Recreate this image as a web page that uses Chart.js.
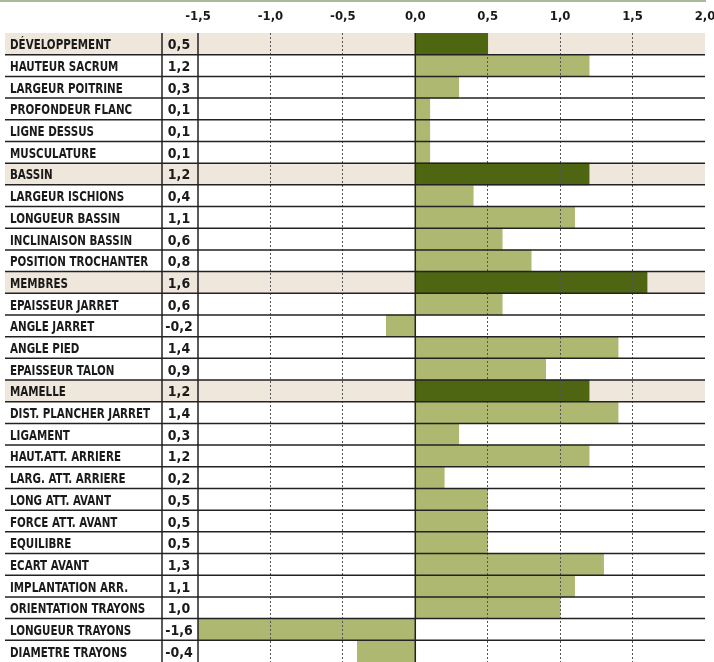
<!DOCTYPE html>
<html lang="fr">
<head>
<meta charset="UTF-8">
<title>Index morphologie</title>
<script src="https://cdn.jsdelivr.net/npm/chart.js"></script>
<style>
  body { margin: 0; background: #fff; }
  .chart-container { position: relative; width: 714px; height: 662px; }
</style>
</head>
<body>
<div class="chart-container"><canvas id="morphoChart"></canvas></div>
<script>
  // Postes pointés, dans l'ordre d'affichage
  const postes = [
    'DÉVELOPPEMENT', 'HAUTEUR SACRUM', 'LARGEUR POITRINE', 'PROFONDEUR FLANC', 'LIGNE DESSUS', 'MUSCULATURE',
    'BASSIN', 'LARGEUR ISCHIONS', 'LONGUEUR BASSIN', 'INCLINAISON BASSIN', 'POSITION TROCHANTER',
    'MEMBRES', 'EPAISSEUR JARRET', 'ANGLE JARRET', 'ANGLE PIED', 'EPAISSEUR TALON',
    'MAMELLE', 'DIST. PLANCHER JARRET', 'LIGAMENT', 'HAUT.ATT. ARRIERE', 'LARG. ATT. ARRIERE',
    'LONG ATT. AVANT', 'FORCE ATT. AVANT', 'EQUILIBRE', 'ECART AVANT', 'IMPLANTATION ARR.',
    'ORIENTATION TRAYONS', 'LONGUEUR TRAYONS', 'DIAMETRE TRAYONS'
  ];
  const valeurs = [
    0.5, 1.2, 0.3, 0.1, 0.1, 0.1,
    1.2, 0.4, 1.1, 0.6, 0.8,
    1.6, 0.6, -0.2, 1.4, 0.9,
    1.2, 1.4, 0.3, 1.2, 0.2,
    0.5, 0.5, 0.5, 1.3, 1.1,
    1.0, -1.6, -0.4
  ];
  // lignes de synthèse (section)
  const synthese = [
    true, false, false, false, false, false,
    true, false, false, false, false,
    true, false, false, false, false,
    true, false, false, false, false,
    false, false, false, false, false,
    false, false, false
  ];
  const xMin = -1.5, xMax = 2.0, xPas = 0.5;

  const VERT_FONCE = '#4e6612';
  const VERT_CLAIR = '#aeb870';
  const BEIGE = '#efe7dc';
  const TRAIT = '#222222';
  const POLICE = '"DejaVu Sans Condensed", "Liberation Sans", sans-serif';

  const fmt = v => Number(v).toFixed(1).replace('.', ',');

  // Tableau de gauche (libellés + valeurs), fonds des sections et traits
  const tableau = {
    id: 'tableau',
    beforeDraw(chart) {
      const { ctx, chartArea, scales: { y } } = chart;
      const demi = (y.getPixelForValue(1) - y.getPixelForValue(0)) / 2;
      ctx.save();
      ctx.fillStyle = '#a9b99a';
      ctx.fillRect(0, 0, chartArea.right + 1, 2);
      ctx.fillStyle = BEIGE;
      synthese.forEach((s, i) => {
        if (!s) return;
        const c = y.getPixelForValue(i);
        ctx.fillRect(5, c - demi, chartArea.right - 5, demi * 2);
      });
      ctx.restore();
    },
    afterDraw(chart) {
      const { ctx, chartArea, scales: { x, y } } = chart;
      const demi = (y.getPixelForValue(1) - y.getPixelForValue(0)) / 2;
      ctx.save();
      ctx.strokeStyle = TRAIT;
      ctx.lineWidth = 1.5;
      // séparateurs de lignes
      for (let i = 0; i < postes.length - 1; i++) {
        const yy = y.getPixelForValue(i) + demi;
        ctx.beginPath();
        ctx.moveTo(5, yy);
        ctx.lineTo(chartArea.right, yy);
        ctx.stroke();
      }
      // colonnes et axe zéro
      [162, chartArea.left, x.getPixelForValue(0)].forEach(xx => {
        ctx.beginPath();
        ctx.moveTo(xx, chartArea.top);
        ctx.lineTo(xx, chartArea.bottom);
        ctx.stroke();
      });
      // textes (libellés resserrés horizontalement)
      ctx.fillStyle = '#1a1a1a';
      ctx.textBaseline = 'alphabetic';
      ctx.font = 'bold 14px ' + POLICE;
      postes.forEach((p, i) => {
        const c = y.getPixelForValue(i) + 5.5;
        ctx.save();
        ctx.translate(10, c);
        ctx.scale(0.82, 1);
        ctx.textAlign = 'left';
        ctx.fillText(p, 0, 0);
        ctx.restore();
        ctx.textAlign = 'center';
        ctx.fillText(fmt(valeurs[i]), 179, c);
      });
      ctx.restore();
    }
  };

  const ctx = document.getElementById('morphoChart').getContext('2d');
  new Chart(ctx, {
    type: 'bar',
    data: {
      labels: postes,
      datasets: [{
        data: valeurs,
        backgroundColor: synthese.map(s => s ? VERT_FONCE : VERT_CLAIR),
        borderWidth: 0,
        barPercentage: 1,
        categoryPercentage: 1
      }]
    },
    options: {
      indexAxis: 'y',
      responsive: true,
      maintainAspectRatio: false,
      animation: false,
      layout: { padding: { left: 198, right: 9, top: 0, bottom: 0 } },
      plugins: {
        legend: { display: false },
        tooltip: { enabled: false }
      },
      scales: {
        x: {
          position: 'top',
          min: xMin,
          max: xMax,
          ticks: {
            stepSize: xPas,
            padding: 9,
            color: '#1a1a1a',
            font: { family: POLICE, size: 13, weight: 'bold' },
            callback: v => fmt(v)
          },
          grid: {
            z: 1,
            drawTicks: false,
            lineWidth: 1,
            color: c => {
              const v = c.tick ? c.tick.value : null;
              return (v === xMin || v === 0 || v === xMax) ? 'rgba(0,0,0,0)' : '#555555';
            }
          },
          border: { display: false, dash: [2, 2] },
          afterFit(scale) {
            scale.height = 33;
            scale.paddingLeft = 0;
            scale.paddingRight = 0;
          }
        },
        y: { display: false }
      }
    },
    plugins: [tableau]
  });
</script>
</body>
</html>
